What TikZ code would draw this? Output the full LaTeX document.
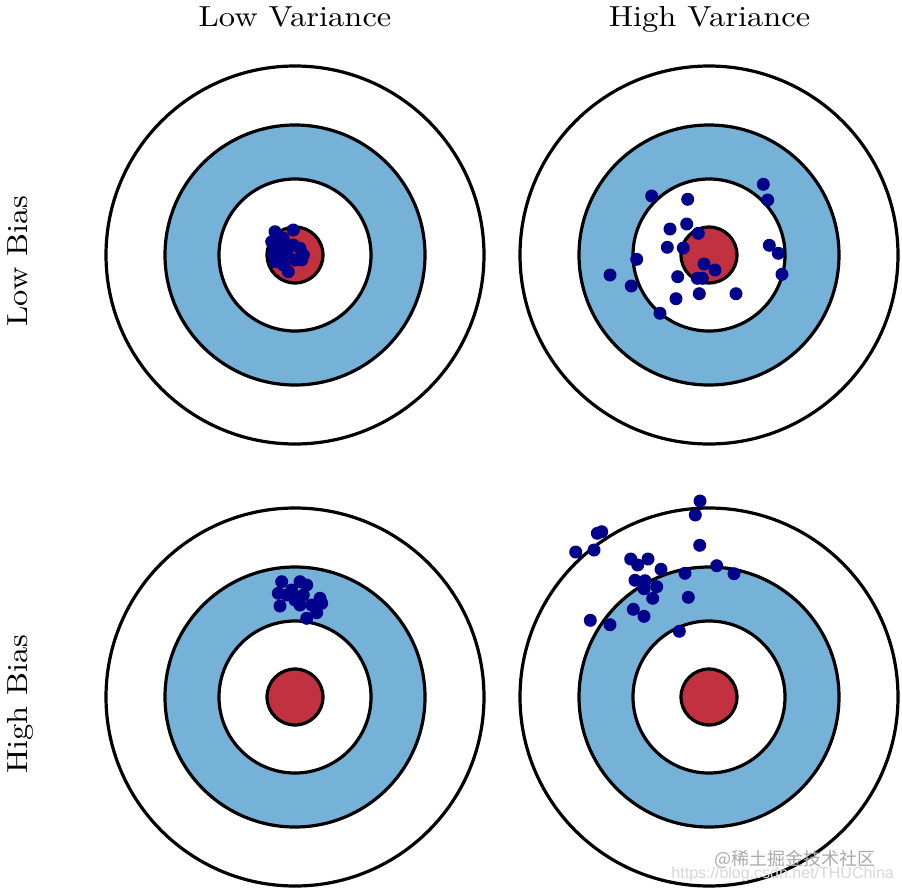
\documentclass[tikz,border=0pt]{standalone}
\usepackage{fontspec}
\newfontfamily\cjkwm{Noto Sans CJK SC}
\newfontfamily\wmsans{Liberation Sans}
\newfontfamily\lmten{lmroman10-regular}[Extension=.otf]
\definecolor{ringblue}{RGB}{118,178,216}
\definecolor{bullred}{RGB}{193,49,64}
\definecolor{shot}{RGB}{0,0,139}
\definecolor{wmgray}{RGB}{170,170,170}
\definecolor{wmlight}{RGB}{215,215,215}
\newcommand\widelabel[1]{\scalebox{1.12}[1]{#1}}
\begin{document}
\begin{tikzpicture}[x=1pt,y=-1pt,
  ring/.style={draw=black,line width=3.2pt},
  shotdot/.style={fill=shot},
  headlabel/.style={font=\lmten\fontsize{29}{32}\selectfont, anchor=base, inner sep=0pt},
  sidelabel/.style={font=\lmten\fontsize{29}{32}\selectfont, anchor=base, rotate=90, inner sep=0pt},
  target/.pic={
    \draw[ring, fill=white] (0,0) circle[radius=189];
    \draw[ring, fill=ringblue] (0,0) circle[radius=130];
    \draw[ring, fill=white] (0,0) circle[radius=76];
    \draw[ring, fill=bullred] (0,0) circle[radius=28];
  }]
\fill[white] (0,0) rectangle (902,894);
\useasboundingbox (0,0) rectangle (902,894);

\pic at (295,255) {target};
\pic at (709,255) {target};
\pic at (295,697) {target};
\pic at (709,697) {target};

% low bias, low variance
\foreach \px/\py in {275/231.7, 293.3/230, 271.7/241.7, 283.3/238.3, 300/248.3, 303.3/255,
  273.3/253.3, 281.7/248.3, 293.3/245, 275/261.7, 283.3/265, 295/260, 288.3/271.7, 301.7/260,
  287/254, 280/257}
  \fill[shotdot] (\px,\py) circle[radius=6.5];

% low bias, high variance
\foreach \px/\py in {651.7/196, 687.7/199.3, 763.3/184.3, 767.7/200, 670/229, 686.7/224,
  698.3/233.3, 667.3/247.3, 683.3/248, 769.3/245.3, 778.3/253.3, 636.7/259.3, 704/264,
  715/270, 610/275, 782/274.3, 677.7/276.7, 697.3/278.3, 702.3/278.3, 631.3/286,
  699.3/293.7, 736/293.7, 676/298.7, 660/313.3}
  \fill[shotdot] (\px,\py) circle[radius=6.5];

% high bias, low variance
\foreach \px/\py in {281.7/581.7, 300/581.7, 306.7/585, 278.3/593.3, 291.7/590, 280/606,
  295/600, 303.3/595, 300/605, 311.7/605, 320/598.3, 321.7/603.3, 316.7/612.7, 306.7/618.3,
  286.7/595}
  \fill[shotdot] (\px,\py) circle[radius=6.5];

% high bias, high variance
\foreach \px/\py in {700/501, 695.3/515, 601.7/531.7, 597.3/533.3, 575.7/552, 594/550,
  699.7/545.3, 630.7/559, 637.7/565, 648/559, 661/569.3, 685/573.3, 716.7/565.7, 734/573.7,
  635/580.3, 645/580.7, 656.7/586.7, 644/588.7, 652.7/598.3, 688.3/597.3, 633.3/609.3,
  644/616.3, 590.3/620.3, 610/624.7, 679.3/631.3}
  \fill[shotdot] (\px,\py) circle[radius=6.5];

\node[headlabel] (lowvar) at (295,27) {\widelabel{Low Variance}};
\node[headlabel] (highvar) at (709.5,27) {\widelabel{High Variance}};
\node[sidelabel] (lowbias) at (27.5,261) {\widelabel{Low Bias}};
\node[sidelabel] (highbias) at (27.5,704) {\widelabel{High Bias}};

\node[font=\cjkwm\fontsize{18}{20}\selectfont, text=wmgray, anchor=east, inner sep=0pt] (wm) at (876,859) {@稀土掘金技术社区};
\node[font=\wmsans\fontsize{16}{18}\selectfont, text=wmlight, anchor=east, inner sep=0pt] (url) at (894,874) {https://blog.csdn.net/THUChina};
\end{tikzpicture}
\end{document}
